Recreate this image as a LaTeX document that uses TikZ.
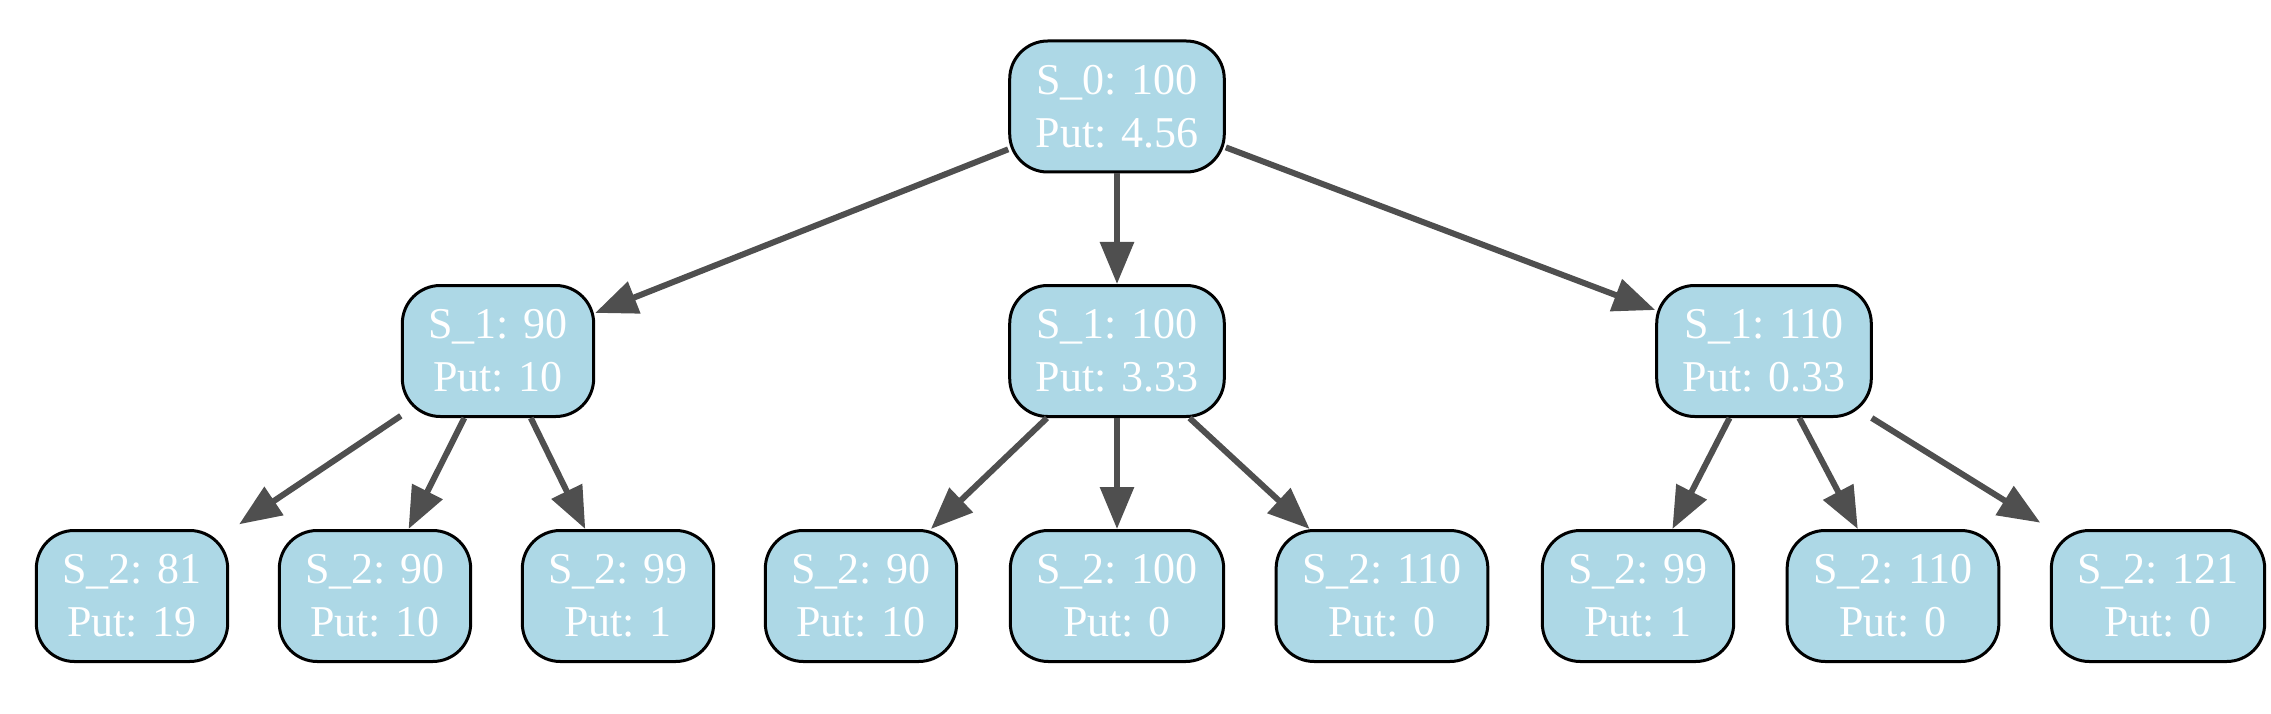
\documentclass[tikz,border=0pt]{standalone}
\usepackage{fontspec}
\setmainfont{Liberation Serif}
\usetikzlibrary{arrows.meta}
\definecolor{nodefill}{HTML}{ADD8E6}
\definecolor{edgegray}{HTML}{4F4F4F}
\tikzset{
  treenode/.style={draw=black, line width=3pt, fill=nodefill, text=white,
    rounded corners=38pt, align=center, inner xsep=26pt, inner ysep=0pt,
    minimum height=131pt, font=\fontsize{44}{53}\selectfont},
  edge/.style={draw=edgegray, line width=6pt,
    -{Triangle[length=42pt, width=33pt]}},
}
\begin{document}
\begin{tikzpicture}[x=1pt, y=-1pt]
\useasboundingbox (0,0) rectangle (2271,714);
\node[treenode] (r)  at (1117,106.5) {S\_0: 100\\Put: 4.56};
\node[treenode] (a1) at (498,351)  {S\_1: 90\\Put: 10};
\node[treenode] (a2) at (1117,351) {S\_1: 100\\Put: 3.33};
\node[treenode] (a3) at (1764,351) {S\_1: 110\\Put: 0.33};
\node[treenode] (b1) at (132,596)  {S\_2: 81\\Put: 19};
\node[treenode] (b2) at (375,596)  {S\_2: 90\\Put: 10};
\node[treenode] (b3) at (618,596)  {S\_2: 99\\Put: 1};
\node[treenode] (b4) at (861,596)  {S\_2: 90\\Put: 10};
\node[treenode] (b5) at (1117,596) {S\_2: 100\\Put: 0};
\node[treenode] (b6) at (1382,596) {S\_2: 110\\Put: 0};
\node[treenode] (b7) at (1638,596) {S\_2: 99\\Put: 1};
\node[treenode] (b8) at (1893,596) {S\_2: 110\\Put: 0};
\node[treenode] (b9) at (2158,596) {S\_2: 121\\Put: 0};
\draw[edge] (r) -- (a1);
\draw[edge] (r) -- (a2);
\draw[edge] (r) -- (a3);
\draw[edge, shorten >=12pt] (a1) -- (b1);
\draw[edge] (a1) -- (b2);
\draw[edge] (a1) -- (b3);
\draw[edge] (a2) -- (b4);
\draw[edge] (a2) -- (b5);
\draw[edge] (a2) -- (b6);
\draw[edge] (a3) -- (b7);
\draw[edge] (a3) -- (b8);
\draw[edge, shorten >=12pt] (a3) -- (b9);
\end{tikzpicture}
\end{document}
